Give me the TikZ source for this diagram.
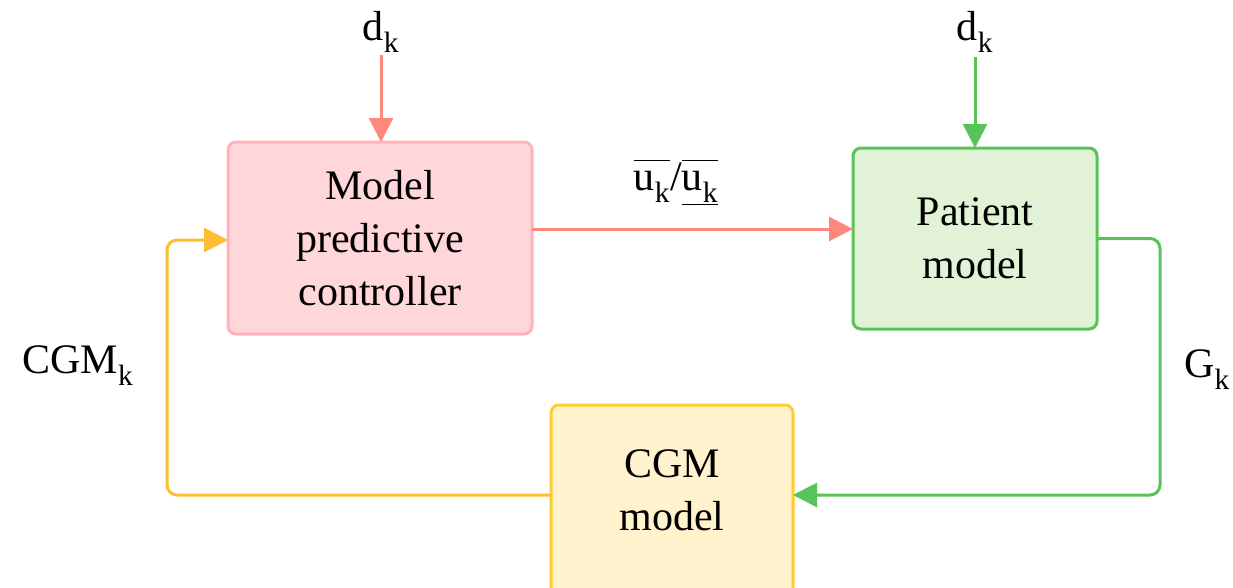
\documentclass[tikz,border=0pt]{standalone}
\usepackage{fontspec}
\setmainfont{Liberation Serif}
\usetikzlibrary{arrows.meta}
\definecolor{mpcfill}{RGB}{255,214,218}
\definecolor{mpcline}{RGB}{255,178,185}
\definecolor{mpcarrow}{RGB}{255,135,125}
\definecolor{patfill}{RGB}{225,242,214}
\definecolor{patline}{RGB}{88,196,88}
\definecolor{cgmfill}{RGB}{255,242,204}
\definecolor{cgmline}{RGB}{255,204,51}
\definecolor{cgmarrow}{RGB}{255,190,50}
\newcommand{\ubar}{$\overline{\hbox{\vphantom{d}u\textsubscript{k}}}$}
\newcommand{\ulow}{$\overline{\underline{\hbox{\vphantom{d}u\textsubscript{k}}}}$}
\tikzset{
	blockbox/.style={rectangle, rounded corners=8, line width=3, align=center, font=\fontsize{42}{53}\selectfont},
	flow/.style={line width=3, rounded corners=10, -{Triangle[length=24,width=24]}},
	lbl/.style={font=\fontsize{42}{50}\selectfont}
}
\begin{document}
\begin{tikzpicture}[y=1pt, x=1pt, yscale=-1, inner sep=0pt, outer sep=0pt]
	\useasboundingbox (0,0) rectangle (1233,587);
	\node[blockbox, fill=mpcfill, draw=mpcline, minimum width=304, minimum height=192] (MPC) at (380,238) {Model\\predictive\\controller};
	\node[blockbox, fill=patfill, draw=patline, minimum width=244, minimum height=181] (P) at (975,238.5) {Patient\\model};
	\node[blockbox, fill=cgmfill, draw=cgmline, minimum width=242, minimum height=190] (CGM) at (672,500) {};
	\node[blockbox, draw=none] (CGMtxt) at (672,490) {CGM\\model};
	\node[lbl] (d1) at (381,32) {d\textsubscript{k}};
	\node[lbl] (d2) at (975,32) {d\textsubscript{k}};
	\node[lbl] (u) at (676,182) {\ubar/\ulow};
	\node[lbl] (cgmk) at (78,366) {CGM\textsubscript{k}};
	\node[lbl] (gk) at (1207,370) {G\textsubscript{k}};
	\coordinate (d1s) at (381,55);
	\coordinate (d2s) at (975,57);
	\draw[flow, mpcarrow] (d1s) -- (MPC.north -| d1s);
	\draw[flow, patline] (d2s) -- (P.north -| d2s);
	\draw[flow, mpcarrow] (MPC.east |- 0,229) -- (P.west |- 0,229);
	\draw[flow, patline] (P.east) -| (1160,495) -- (CGM.east |- 0,495);
	\draw[flow, cgmarrow] (CGM.west |- 0,495) -| (167,240) -- (MPC.west |- 0,240);
\end{tikzpicture}
\end{document}
